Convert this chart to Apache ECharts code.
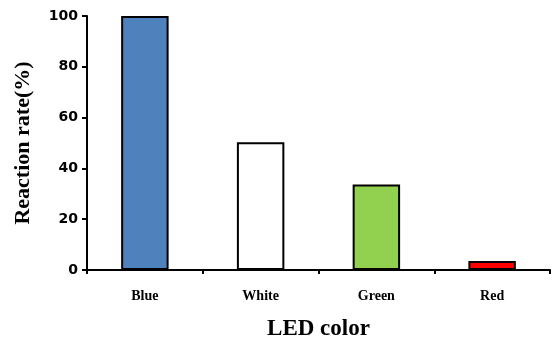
<!DOCTYPE html>
<html lang="en">
	<head>
		<meta charset="UTF-8" />
		<script src="https://cdn.jsdelivr.net/npm/echarts@6/dist/echarts.min.js"></script>
		<title>LED color</title>
		<style>html,body{margin:0;padding:0;background:#fff;}</style>
	</head>
	<body>
		<div id="main" style="width:554px;height:343px;"></div>
		<script>
			var categories = ['Blue', 'White', 'Green', 'Red'];
			var rates = [100, 50.3, 33.7, 3.5];
			var barColors = ['#4f81bd', '#ffffff', '#92d050', '#ff0000'];
			var yTicks = [0, 20, 40, 60, 80, 100];

			var serif = 'Liberation Serif';
			var myChart = echarts.init(document.getElementById('main'));
			var option = {
				animation: false,
				grid: { left: 87, right: 4, top: 16, bottom: 73, outerBoundsMode: 'none', containLabel: false },
				xAxis: {
					type: 'category',
					data: categories,
					name: 'LED color',
					nameLocation: 'middle',
					nameGap: 48,
					nameTextStyle: { fontFamily: serif, fontWeight: 'bold', fontSize: 23, color: '#000' },
					axisLine: { lineStyle: { color: '#000', width: 2 } },
					axisTick: { show: true, inside: false, length: 4, lineStyle: { color: '#000', width: 2 } },
					axisLabel: { margin: 19, fontFamily: serif, fontWeight: 'bold', fontSize: 14, color: '#000' }
				},
				yAxis: {
					type: 'value',
					min: yTicks[0],
					max: yTicks[yTicks.length - 1],
					interval: 20,
					name: 'Reaction rate(%)',
					nameLocation: 'middle',
					nameGap: 53,
					nameTextStyle: { fontFamily: serif, fontWeight: 'bold', fontSize: 22, color: '#000' },
					splitLine: { show: false },
					axisLine: { show: true, lineStyle: { color: '#000', width: 2 } },
					axisTick: { show: true, length: 5, lineStyle: { color: '#000', width: 2 } },
					axisLabel: { margin: 9, fontFamily: 'DejaVu Sans', fontWeight: 'bold', fontSize: 14, color: '#000' }
				},
				series: [{
					type: 'bar',
					barWidth: '41%',
					data: rates.map(function (v, i) {
						return {
							value: v,
							itemStyle: { color: barColors[i], borderColor: '#000', borderWidth: 2 }
						};
					})
				}]
			};
			myChart.setOption(option);
		</script>
	</body>
</html>
